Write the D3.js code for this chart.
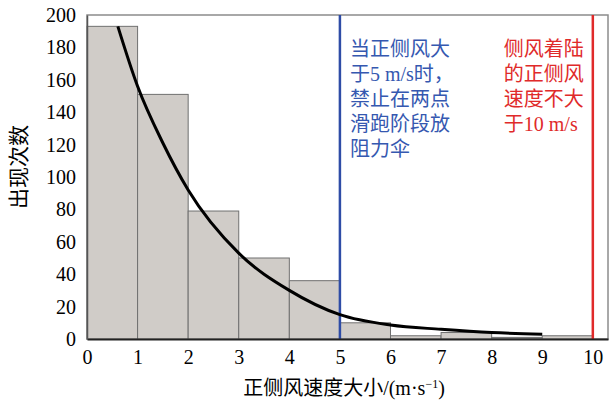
<!DOCTYPE html>
<html>
<head>
<meta charset="utf-8">
<script src="https://cdn.jsdelivr.net/npm/d3@7"></script>
<style>
  body { margin: 0; background: #fff; }
  text { font-family: "Liberation Serif", "Noto Sans CJK SC", serif; }
</style>
</head>
<body>
<div id="chart"></div>
<script>
// histogram bins (lower edge, m/s) and counts
var binStarts = [0, 1, 2, 3, 4, 5, 6, 7, 8, 9];
var counts = [193, 151, 79, 50, 36, 10, 2, 4, 1, 2];

// fitted curve
var fitX = [0.61, 1, 1.5, 2, 3, 4, 5, 6, 7, 8, 9];
var fitY = [193, 156, 121, 92, 53, 30, 15, 8.6, 6, 4, 3];

var xTicks = [0, 1, 2, 3, 4, 5, 6, 7, 8, 9, 10];
var yTicks = [0, 20, 40, 60, 80, 100, 120, 140, 160, 180, 200];

var blueNote = ["当正侧风大", "于5 m/s时，", "禁止在两点", "滑跑阶段放", "阻力伞"];
var redNote = ["侧风着陆", "的正侧风", "速度不大", "于10 m/s"];
var limitBlue = 5, limitRed = 10;

var margin = {top: 15, right: 8, bottom: 61, left: 87},
    width = 616 - margin.left - margin.right,
    height = 400 - margin.top - margin.bottom;

var x = d3.scaleLinear().domain([0, 10.3]).range([0, width]);
var y = d3.scaleLinear().domain([0, 200]).range([height, 0]);

var svg = d3.select("#chart").append("svg")
    .attr("width", 616)
    .attr("height", 400)
    .append("g")
    .attr("transform", "translate(" + margin.left + "," + margin.top + ")");

// frame
svg.append("rect")
    .attr("width", width)
    .attr("height", height)
    .style("fill", "#fff")
    .style("stroke", "#8c8c8c")
    .style("stroke-width", "1.5px");

// bars
svg.selectAll(".bar")
    .data(binStarts)
    .enter().append("rect")
    .attr("class", "bar")
    .attr("x", function(d) { return x(d); })
    .attr("width", function(d) { return x(d + 1) - x(d); })
    .attr("y", function(d, i) { return y(counts[i]); })
    .attr("height", function(d, i) { return height - y(counts[i]); })
    .style("fill", function(d) { return d === 8 ? "#8e8e8e" : "#d0ccc8"; })
    .style("stroke", "#707070")
    .style("stroke-width", "1px");

// limit lines
svg.append("line")
    .attr("x1", x(limitBlue)).attr("x2", x(limitBlue))
    .attr("y1", 0).attr("y2", height)
    .style("stroke", "#2e4ca6").style("stroke-width", "2.5px");
svg.append("line")
    .attr("x1", x(limitRed)).attr("x2", x(limitRed))
    .attr("y1", 0).attr("y2", height)
    .style("stroke", "#e02a2a").style("stroke-width", "2.5px");

// fitted curve
svg.append("path")
    .datum(fitX)
    .style("fill", "none")
    .style("stroke", "#000")
    .style("stroke-width", "3px")
    .attr("d", d3.line()
        .curve(d3.curveMonotoneX)
        .x(function(d) { return x(d); })
        .y(function(d, i) { return y(fitY[i]); }));

// axes
var xAxis = svg.append("g")
    .attr("transform", "translate(0," + height + ")")
    .call(d3.axisBottom(x).tickValues(xTicks).tickSize(0).tickPadding(11));
xAxis.select(".domain").style("stroke", "#222").style("stroke-width", "2px");
xAxis.selectAll("text").style("font-size", "20px").style("fill", "#000");

var yAxis = svg.append("g")
    .call(d3.axisLeft(y).tickValues(yTicks).tickSize(0).tickPadding(11));
yAxis.select(".domain").style("stroke", "#555").style("stroke-width", "1.5px");
yAxis.selectAll("text").style("font-size", "20px").style("fill", "#000");

// axis titles
svg.append("text")
    .attr("x", 257)
    .attr("y", height + 56)
    .attr("text-anchor", "middle")
    .style("font-size", "20px")
    .html("正侧风速度大小/(m·s<tspan dy='-7' font-size='12px'>−1</tspan><tspan dy='7'>)</tspan>");

svg.append("text")
    .attr("transform", "translate(-61," + (height / 2 - 10) + ") rotate(-90)")
    .attr("text-anchor", "middle")
    .style("font-size", "21px")
    .text("出现次数");

// notes
svg.append("g").selectAll("text")
    .data(blueNote)
    .enter().append("text")
    .attr("x", x(limitBlue) + 10)
    .attr("y", function(d, i) { return 41 + i * 25; })
    .style("font-size", "20px")
    .style("fill", "#3558b0")
    .text(function(d) { return d; });

svg.append("g").selectAll("text")
    .data(redNote)
    .enter().append("text")
    .attr("x", x(limitRed) - 89)
    .attr("y", function(d, i) { return 41 + i * 25; })
    .style("font-size", "20px")
    .style("fill", "#e02a2a")
    .text(function(d) { return d; });
</script>
</body>
</html>
